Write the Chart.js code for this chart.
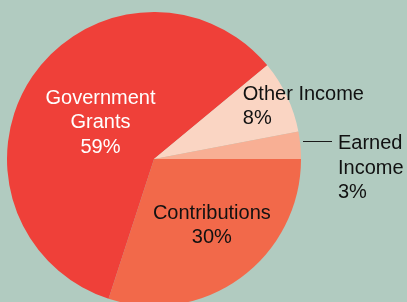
<!DOCTYPE html>
<html>
<head>
<meta charset="utf-8">
<script src="https://cdn.jsdelivr.net/npm/chart.js@4"></script>
<style>
  html, body { margin: 0; padding: 0; background: #b1cbc0; overflow: hidden; }
  #wrap { position: relative; width: 407px; height: 302px; overflow: hidden; }
  #box { position: absolute; left: 0; top: 0; width: 407px; height: 310px; }
</style>
</head>
<body>
<div id="wrap"><div id="box"><canvas id="pie"></canvas></div></div>
<script>
// data
const categories = ['Contributions', 'Government Grants', 'Other Income', 'Earned Income']
const labelText = ['Contributions', 'Government\nGrants', 'Other Income', 'Earned\nIncome']
const values = [30, 59, 8, 3]
const sliceColors = ['#f2694a', '#ef4039', '#fad5c3', '#f8af94']
const textColors = ['#111111', '#ffffff', '#111111', '#111111']

// where each label sits: fraction of radius along the slice middle, plus a nudge
const labelPlace = [
  { r: 0.6, dx: 6, dy: -5, align: 'center' },
  { r: 0.44, dx: 0, dy: 0, align: 'center' },
  { r: 0.6, dx: 9, dy: -15, align: 'left' },
  { outside: true }
]

const sliceLabels = {
  id: 'sliceLabels',
  afterDatasetsDraw(chart) {
    const ctx = chart.ctx
    const arcs = chart.getDatasetMeta(0).data
    const lineH = 24.5
    ctx.save()
    ctx.font = '20px "Liberation Sans", Arial, sans-serif'
    ctx.textBaseline = 'middle'
    arcs.forEach(function (arc, i) {
      const mid = (arc.startAngle + arc.endAngle) / 2
      const lines = labelText[i].split('\n').concat([values[i] + '%'])
      const p = labelPlace[i]
      ctx.fillStyle = textColors[i]
      if (p.outside) {
        const y = Math.round(arc.y + (arc.outerRadius + 2) * Math.sin(mid) - 4) + 0.5
        const x0 = Math.round(arc.x + arc.outerRadius + 2)
        ctx.strokeStyle = '#1a1a1a'
        ctx.lineWidth = 1
        ctx.beginPath()
        ctx.moveTo(x0, y)
        ctx.lineTo(x0 + 29, y)
        ctx.stroke()
        ctx.textAlign = 'left'
        lines.forEach(function (t, k) {
          ctx.fillText(t, x0 + 35, y + 2 + k * lineH)
        })
        return
      }
      const ax = arc.x + p.r * arc.outerRadius * Math.cos(mid) + p.dx
      const ay = arc.y + p.r * arc.outerRadius * Math.sin(mid) + p.dy
      ctx.textAlign = p.align
      const top = ay - (lines.length - 1) * lineH / 2
      lines.forEach(function (t, k) {
        ctx.fillText(t, ax, top + k * lineH)
      })
    })
    ctx.restore()
  }
}

new Chart(document.getElementById('pie'), {
  type: 'pie',
  data: {
    labels: categories,
    datasets: [{
      data: values,
      backgroundColor: sliceColors,
      borderWidth: 0,
      hoverOffset: 0
    }]
  },
  options: {
    responsive: true,
    maintainAspectRatio: false,
    animation: false,
    rotation: 90,
    layout: { padding: { left: 7, top: 12, right: 106, bottom: 4 } },
    plugins: {
      legend: { display: false },
      tooltip: { enabled: false }
    },
    events: []
  },
  plugins: [sliceLabels]
})
</script>
</body>
</html>
